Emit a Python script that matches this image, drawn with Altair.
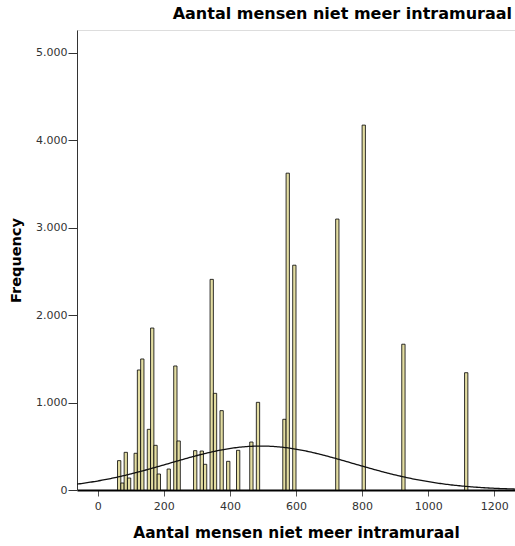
import altair as alt
import pandas as pd
import numpy as np

# Histogram bins (lower edge, width 10) and frequencies
bin_start = [60, 70, 80, 90, 110, 120, 130, 150, 160, 170, 180, 210, 230, 240,
             290, 310, 320, 340, 350, 370, 390, 420, 460, 480, 560, 570, 590,
             720, 800, 920, 1110]
freq = [336, 80, 431, 137, 420, 1373, 1499, 694, 1853, 511, 183, 240, 1419, 561,
        450, 446, 294, 2410, 1106, 908, 328, 454, 549, 1003, 809, 3625, 2572,
        3100, 4175, 1668, 1342]
bin_width = 10
x_ticks = [0, 200, 400, 600, 800, 1000, 1200]
y_ticks = [0, 1000, 2000, 3000, 4000, 5000]
x_domain = [-62.6, 1262.6]
y_domain = [0, 5263]

bars = pd.DataFrame({"x": bin_start, "freq": freq})
bars["x2"] = bars["x"] + bin_width

# fitted normal curve from the histogram itself
centers = np.array(bin_start) + bin_width / 2
w = np.array(freq, dtype=float)
N = w.sum()
mu = (centers * w).sum() / N
sd = np.sqrt(((centers - mu) ** 2 * w).sum() / (N - 1))
xs = np.linspace(x_domain[0], x_domain[1], 300)
ys = N * bin_width * np.exp(-0.5 * ((xs - mu) / sd) ** 2) / (sd * np.sqrt(2 * np.pi))
curve = pd.DataFrame({"x": xs, "y": ys})

FONT = "DejaVu Sans"
xscale = alt.Scale(domain=x_domain, nice=False, zero=False)
yscale = alt.Scale(domain=y_domain, nice=False)

bar_layer = alt.Chart(bars).mark_rect(
    fill="#E3DDA2", stroke="#000000", strokeWidth=1, strokeOpacity=0.8, clip=True
).encode(
    x=alt.X("x:Q", scale=xscale,
            axis=alt.Axis(values=x_ticks, title="Aantal mensen niet meer intramuraal",
                          format="d", grid=False, domainColor="#000", domainWidth=2,
                          tickColor="#555", tickSize=6, labelPadding=4,
                          labelFont=FONT, labelFontSize=11, labelColor="#333",
                          titleFont=FONT, titleFontSize=15.4, titleFontWeight="bold",
                          titleColor="#000", titlePadding=14)),
    x2="x2:Q",
    y=alt.Y("freq:Q", scale=yscale,
            axis=alt.Axis(values=y_ticks, title="Frequency", grid=False,
                          labelExpr="replace(format(datum.value, ','), ',', '.')",
                          domainColor="#333", domainWidth=1, tickColor="#333",
                          tickSize=9, labelPadding=1,
                          labelFont=FONT, labelFontSize=11, labelColor="#333",
                          titleFont=FONT, titleFontSize=14.5, titleFontWeight="bold",
                          titleColor="#000", titlePadding=12)),
    y2=alt.datum(0),
)

line_layer = alt.Chart(curve).mark_line(color="#111", strokeWidth=1.3, clip=True).encode(
    x=alt.X("x:Q", scale=xscale),
    y=alt.Y("y:Q", scale=yscale),
)

chart = alt.layer(bar_layer, line_layer).properties(
    width=438,
    height=460,
    padding={"left": 77, "top": 30, "right": 0, "bottom": 56},
    autosize=alt.AutoSizeParams(type="none"),
    title=alt.TitleParams("Aantal mensen niet meer intramuraal", anchor="end",
                          font=FONT, fontSize=16, fontWeight="bold", color="#000",
                          offset=8, dx=-3),
).configure_view(fill="#F0F0F0", stroke="#333", strokeWidth=1).configure(background="white")

chart.save("out.html", embed_options={"renderer": "svg", "actions": False})
